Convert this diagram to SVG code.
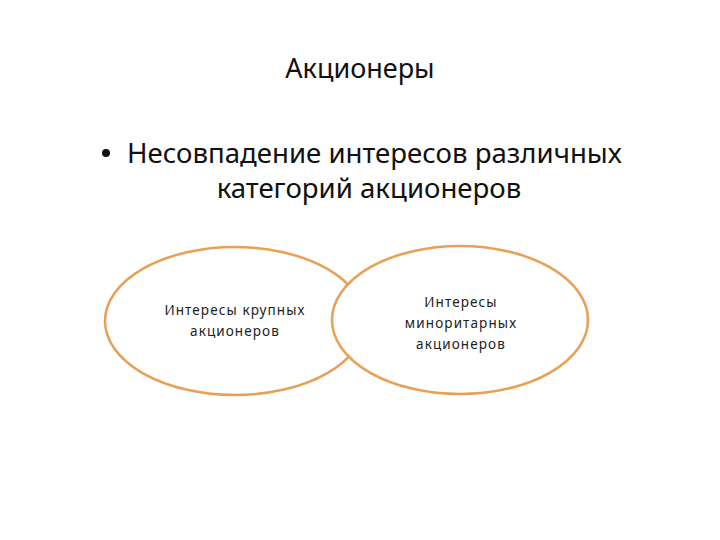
<svg xmlns="http://www.w3.org/2000/svg" width="720" height="540" viewBox="0 0 720 540">
<style>
.t{font-family:"Noto Sans","Open Sans","DejaVu Sans",sans-serif;fill:#111}
.title{font-size:27px}
.body{font-size:27.6px}
.lbl{font-size:13.5px;letter-spacing:1.1px;fill:#222}
.ell{fill:#fff;stroke:#E8A055;stroke-width:2.5}
</style>
<rect width="720" height="540" fill="#fff"/>
<text class="t title" x="360" y="78" text-anchor="middle">Акционеры</text>
<circle cx="106" cy="153" r="4" fill="#111"/>
<text class="t body" x="127" y="163">Несовпадение интересов различных</text>
<text class="t body" x="369" y="198" text-anchor="middle">категорий акционеров</text>
<g id="node-large">
<ellipse class="ell" cx="235" cy="321" rx="130" ry="74"/>
<text class="t lbl" x="235" y="315" text-anchor="middle">Интересы крупных</text>
<text class="t lbl" x="235" y="336" text-anchor="middle">акционеров</text>
</g>
<g id="node-minority">
<ellipse class="ell" cx="460" cy="320" rx="128" ry="74"/>
<text class="t lbl" x="461" y="307" text-anchor="middle">Интересы</text>
<text class="t lbl" x="461" y="328" text-anchor="middle">миноритарных</text>
<text class="t lbl" x="461" y="349" text-anchor="middle">акционеров</text>
</g>
<g id="connectors"></g>
</svg>
